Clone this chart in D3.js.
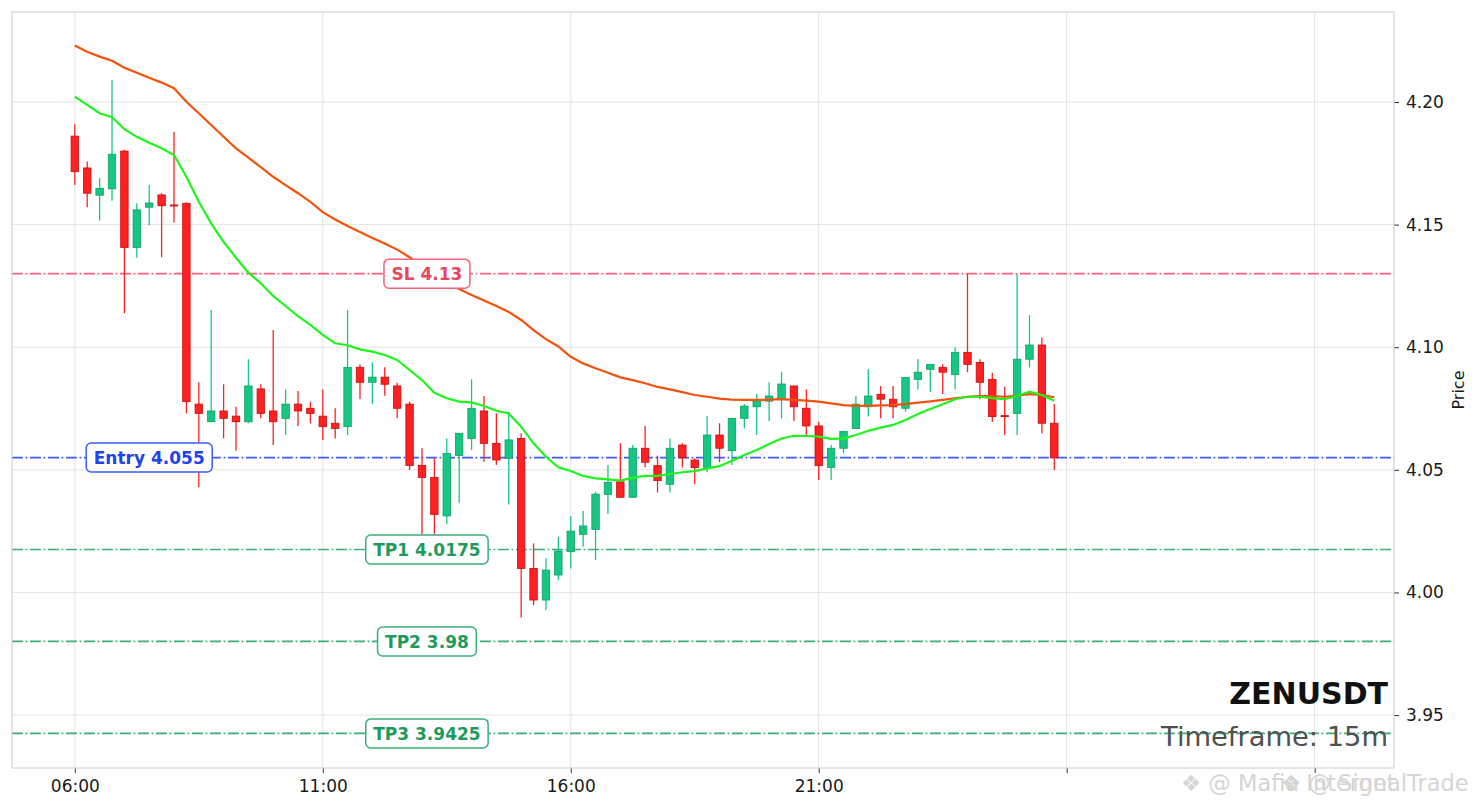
<!DOCTYPE html>
<html>
<head>
<meta charset="utf-8">
<script src="https://cdn.jsdelivr.net/npm/d3@7"></script>
<style>
    body { margin: 0; background: #fff; }
    svg { font-family: 'DejaVu Sans', sans-serif; display: block; }
</style>
</head>
<body>
<svg id="chart"></svg>
<script>
// ---- data (15m candles from 06:00) ----
const symbol = 'ZENUSDT';
const timeframe = '15m';
const startTime = new Date(2024, 0, 1, 6, 0);
const intervalMinutes = 15;

const opens = [4.1861, 4.1731, 4.1620, 4.1646, 4.1800, 4.1407, 4.1571, 4.1621, 4.1580, 4.1587,
    4.0768, 4.0696, 4.0740, 4.0719, 4.0696, 4.0830, 4.0740, 4.0710, 4.0768, 4.0751,
    4.0719, 4.0690, 4.0676, 4.0918, 4.0857, 4.0878, 4.0842, 4.0768, 4.0518, 4.0469,
    4.0312, 4.0558, 4.0628, 4.0740, 4.0608, 4.0547, 4.0628, 4.0098, 3.9969, 4.0071,
    4.0166, 4.0237, 4.0257, 4.0400, 4.0451, 4.0388, 4.0588, 4.0517, 4.0441, 4.0601,
    4.0540, 4.0510, 4.0642, 4.0578, 4.0710, 4.0757, 4.0780, 4.0787, 4.0842, 4.0751,
    4.0679, 4.0510, 4.0588, 4.0669, 4.0757, 4.0808, 4.0788, 4.0751, 4.0869, 4.0910,
    4.0918, 4.0889, 4.0979, 4.0938, 4.0869, 4.0721, 4.0730, 4.0951, 4.1009, 4.0690];
const highs = [4.1909, 4.1757, 4.1689, 4.2090, 4.1805, 4.1587, 4.1661, 4.1628, 4.1879, 4.1590,
    4.0857, 4.1152, 4.0849, 4.0757, 4.0951, 4.0849, 4.1070, 4.0828, 4.0821, 4.0778,
    4.0828, 4.0751, 4.1152, 4.0930, 4.0938, 4.0918, 4.0855, 4.0778, 4.0588, 4.0547,
    4.0628, 4.0649, 4.0869, 4.0801, 4.0730, 4.0737, 4.0649, 4.0200, 4.0139, 4.0227,
    4.0312, 4.0332, 4.0411, 4.0520, 4.0608, 4.0601, 4.0679, 4.0558, 4.0628, 4.0608,
    4.0547, 4.0719, 4.0690, 4.0710, 4.0768, 4.0809, 4.0857, 4.0898, 4.0842, 4.0828,
    4.0696, 4.0601, 4.0657, 4.0801, 4.0910, 4.0842, 4.0842, 4.0877, 4.0952, 4.0930,
    4.0931, 4.1000, 4.1299, 4.0951, 4.0896, 4.0839, 4.1299, 4.1131, 4.1040, 4.0768];
const lows = [4.1661, 4.1571, 4.1516, 4.1597, 4.1138, 4.1365, 4.1496, 4.1367, 4.1509, 4.0730,
    4.0429, 4.0696, 4.0628, 4.0578, 4.0690, 4.0710, 4.0601, 4.0642, 4.0679, 4.0690,
    4.0622, 4.0628, 4.0642, 4.0789, 4.0768, 4.0802, 4.0710, 4.0499, 4.0238, 4.0238,
    4.0278, 4.0366, 4.0581, 4.0533, 4.0520, 4.0359, 3.9898, 3.9948, 3.9928, 4.0051,
    4.0098, 4.0186, 4.0132, 4.0320, 4.0388, 4.0388, 4.0510, 4.0408, 4.0408, 4.0509,
    4.0441, 4.0490, 4.0531, 4.0520, 4.0669, 4.0642, 4.0699, 4.0710, 4.0699, 4.0638,
    4.0458, 4.0458, 4.0567, 4.0669, 4.0717, 4.0710, 4.0710, 4.0737, 4.0828, 4.0818,
    4.0809, 4.0828, 4.0898, 4.0788, 4.0696, 4.0642, 4.0642, 4.0918, 4.0649, 4.0499];
const closes = [4.1716, 4.1628, 4.1648, 4.1787, 4.1407, 4.1560, 4.1588, 4.1577, 4.1578, 4.0778,
    4.0730, 4.0740, 4.0710, 4.0696, 4.0842, 4.0730, 4.0696, 4.0768, 4.0740, 4.0730,
    4.0676, 4.0669, 4.0918, 4.0857, 4.0878, 4.0849, 4.0751, 4.0518, 4.0469, 4.0318,
    4.0567, 4.0649, 4.0751, 4.0608, 4.0540, 4.0622, 4.0098, 3.9969, 4.0091, 4.0169,
    4.0250, 4.0271, 4.0401, 4.0449, 4.0388, 4.0588, 4.0531, 4.0456, 4.0588, 4.0549,
    4.0509, 4.0642, 4.0588, 4.0710, 4.0760, 4.0780, 4.0801, 4.0850, 4.0757, 4.0679,
    4.0517, 4.0588, 4.0657, 4.0768, 4.0801, 4.0788, 4.0757, 4.0877, 4.0898, 4.0930,
    4.0898, 4.0979, 4.0930, 4.0857, 4.0717, 4.0718, 4.0951, 4.1009, 4.0690, 4.0549];

// moving averages as drawn (they carry history from before the window)
const emaFast = [4.2022, 4.1988, 4.1954, 4.1938, 4.1889, 4.1858, 4.1834, 4.1811, 4.1784, 4.1695,
    4.1593, 4.1505, 4.1430, 4.1365, 4.1304, 4.1261, 4.1209, 4.1168, 4.1127, 4.1091,
    4.1050, 4.1016, 4.1008, 4.0991, 4.0982, 4.0968, 4.0948, 4.0907, 4.0866, 4.0814,
    4.0792, 4.0778, 4.0775, 4.0760, 4.0741, 4.0730, 4.0676, 4.0608, 4.0553, 4.0510,
    4.0495, 4.0475, 4.0465, 4.0461, 4.0456, 4.0468, 4.0475, 4.0475, 4.0483, 4.0490,
    4.0495, 4.0506, 4.0515, 4.0537, 4.0560, 4.0581, 4.0605, 4.0628, 4.0639, 4.0638,
    4.0635, 4.0626, 4.0628, 4.0642, 4.0659, 4.0672, 4.0683, 4.0703, 4.0728, 4.0748,
    4.0767, 4.0788, 4.0798, 4.0798, 4.0792, 4.0788, 4.0801, 4.0819, 4.0805, 4.0782];
const emaSlow = [4.2230, 4.2205, 4.2185, 4.2168, 4.2140, 4.2119, 4.2099, 4.2079, 4.2056, 4.2001,
    4.1954, 4.1906, 4.1858, 4.1811, 4.1773, 4.1734, 4.1695, 4.1661, 4.1628, 4.1593,
    4.1551, 4.1521, 4.1494, 4.1470, 4.1445, 4.1423, 4.1398, 4.1367, 4.1331, 4.1294,
    4.1262, 4.1237, 4.1213, 4.1190, 4.1168, 4.1144, 4.1111, 4.1070, 4.1033, 4.1003,
    4.0961, 4.0934, 4.0914, 4.0896, 4.0877, 4.0866, 4.0853, 4.0838, 4.0828, 4.0817,
    4.0805, 4.0798, 4.0790, 4.0786, 4.0785, 4.0785, 4.0786, 4.0788, 4.0785, 4.0782,
    4.0778, 4.0771, 4.0764, 4.0761, 4.0761, 4.0763, 4.0764, 4.0768, 4.0774, 4.0779,
    4.0785, 4.0792, 4.0798, 4.0801, 4.0801, 4.0798, 4.0802, 4.0809, 4.0805, 4.0796];

const levelNames = ['SL', 'Entry', 'TP1', 'TP2', 'TP3'];
const levelValues = [4.13, 4.055, 4.0175, 3.98, 3.9425];
const levelLabels = ['SL 4.13', 'Entry 4.055', 'TP1 4.0175', 'TP2 3.98', 'TP3 3.9425'];

const yTicks = [3.95, 4.00, 4.05, 4.10, 4.15, 4.20];
const xTickHours = [0, 5, 10, 15, 20, 25];
const xTickLabels = ['06:00', '11:00', '16:00', '21:00', '', ''];

class CandleChart {
    constructor(_config) {
        this.config = {
            parentElement: _config.parentElement,
            containerWidth: _config.containerWidth || 1479,
            containerHeight: _config.containerHeight || 808,
            margin: {top: 12, right: 85, bottom: 40, left: 12}
        }

        this.data = opens.map((o, i) => ({
            time: d3.timeMinute.offset(startTime, i * intervalMinutes),
            open: o, high: highs[i], low: lows[i], close: closes[i],
            fast: emaFast[i], slow: emaSlow[i]
        }));

        this.initVis();
    }

    initVis() {
        let vis = this;

        vis.width = vis.config.containerWidth - vis.config.margin.left - vis.config.margin.right;
        vis.height = vis.config.containerHeight - vis.config.margin.top - vis.config.margin.bottom;

        vis.svg = d3.select(vis.config.parentElement)
            .attr('width', vis.config.containerWidth)
            .attr('height', vis.config.containerHeight);

        vis.chart = vis.svg.append('g')
            .attr('transform', `translate(${vis.config.margin.left}, ${vis.config.margin.top})`);

        vis.xScale = d3.scaleTime()
            .domain([d3.timeMinute.offset(startTime, -76), d3.timeMinute.offset(startTime, 1596)])
            .range([0, vis.width]);

        vis.yScale = d3.scaleLinear()
            .domain([3.9284, 4.2367])
            .range([vis.height, 0]);

        vis.xTickTimes = xTickHours.map(h => d3.timeHour.offset(startTime, h));

        vis.xAxis = d3.axisBottom(vis.xScale)
            .tickValues(vis.xTickTimes)
            .tickFormat((d, i) => xTickLabels[i])
            .tickSize(5)
            .tickPadding(7);

        vis.yAxis = d3.axisRight(vis.yScale)
            .tickValues(yTicks)
            .tickFormat(d3.format('.2f'))
            .tickSize(5)
            .tickPadding(7);

        vis.colors = {
            up: '#16c784', upEdge: '#0e9e63',
            down: '#ff2121', downEdge: '#c40d0d',
            fast: '#1df51d', slow: '#f2520c',
            SL: '#f2627a', Entry: '#3a5bff', TP: '#3aae78',
            SLText: '#e9465e', EntryText: '#2243ea', TPText: '#1f9a5e'
        }

        // where each level's tag sits, in candle units
        vis.labelAt = {SL: 28.4, Entry: 6, TP1: 28.4, TP2: 28.4, TP3: 28.4};

        vis.gridG = vis.chart.append('g').attr('class', 'grid');
        vis.levelG = vis.chart.append('g').attr('class', 'levels');
        vis.candleG = vis.chart.append('g').attr('class', 'candles');
        vis.lineG = vis.chart.append('g').attr('class', 'ema');
        vis.tagG = vis.chart.append('g').attr('class', 'tags');

        vis.xAxisG = vis.chart.append('g')
            .attr('class', 'axis x-axis')
            .attr('transform', `translate(0,${vis.height})`);

        vis.yAxisG = vis.chart.append('g')
            .attr('class', 'axis y-axis')
            .attr('transform', `translate(${vis.width},0)`);

        vis.updateVis();
    }

    updateVis() {
        let vis = this;

        vis.fastLine = d3.line()
            .x(d => vis.xScale(d.time))
            .y(d => vis.yScale(d.fast));

        vis.slowLine = d3.line()
            .x(d => vis.xScale(d.time))
            .y(d => vis.yScale(d.slow));

        vis.step = vis.xScale(vis.data[1].time) - vis.xScale(vis.data[0].time);
        vis.bodyWidth = vis.step * 0.6;

        vis.renderVis();
    }

    renderVis() {
        let vis = this;

        // grid
        vis.gridG.selectAll('.hgrid')
            .data(yTicks)
            .join('line')
            .attr('class', 'hgrid')
            .attr('x1', 0).attr('x2', vis.width)
            .attr('y1', d => vis.yScale(d)).attr('y2', d => vis.yScale(d))
            .attr('stroke', '#e4e4e4')
            .attr('stroke-width', 1);

        vis.gridG.selectAll('.vgrid')
            .data(vis.xTickTimes)
            .join('line')
            .attr('class', 'vgrid')
            .attr('y1', 0).attr('y2', vis.height)
            .attr('x1', d => vis.xScale(d)).attr('x2', d => vis.xScale(d))
            .attr('stroke', '#e4e4e4')
            .attr('stroke-width', 1);

        // trade levels
        vis.levelG.selectAll('.level')
            .data(levelValues)
            .join('line')
            .attr('class', 'level')
            .attr('x1', 0).attr('x2', vis.width)
            .attr('y1', d => vis.yScale(d)).attr('y2', d => vis.yScale(d))
            .attr('stroke', (d, i) => vis.levelColor(levelNames[i]))
            .attr('stroke-width', 1.7)
            .attr('stroke-dasharray', '10.9,2.7,1.7,2.7');

        // candles
        const candle = vis.candleG.selectAll('.candle')
            .data(vis.data)
            .join('g')
            .attr('class', 'candle');

        candle.append('line')
            .attr('x1', d => vis.xScale(d.time)).attr('x2', d => vis.xScale(d.time))
            .attr('y1', d => vis.yScale(d.high)).attr('y2', d => vis.yScale(d.low))
            .attr('stroke', d => d.close >= d.open ? vis.colors.up : vis.colors.down)
            .attr('stroke-width', 1.3);

        candle.append('rect')
            .attr('x', d => vis.xScale(d.time) - vis.bodyWidth / 2)
            .attr('width', vis.bodyWidth)
            .attr('y', d => vis.yScale(Math.max(d.open, d.close)))
            .attr('height', d => Math.max(1, Math.abs(vis.yScale(d.open) - vis.yScale(d.close))))
            .attr('fill', d => d.close >= d.open ? vis.colors.up : vis.colors.down)
            .attr('stroke', d => d.close >= d.open ? vis.colors.upEdge : vis.colors.downEdge)
            .attr('stroke-width', 0.8);

        // moving averages
        vis.lineG.selectAll('.slow-line')
            .data([vis.data])
            .join('path')
            .attr('class', 'slow-line')
            .attr('fill', 'none')
            .attr('stroke', vis.colors.slow)
            .attr('stroke-width', 2.2)
            .attr('d', vis.slowLine);

        vis.lineG.selectAll('.fast-line')
            .data([vis.data])
            .join('path')
            .attr('class', 'fast-line')
            .attr('fill', 'none')
            .attr('stroke', vis.colors.fast)
            .attr('stroke-width', 2.2)
            .attr('d', vis.fastLine);

        // level tags
        const tag = vis.tagG.selectAll('.tag')
            .data(levelValues)
            .join('g')
            .attr('class', 'tag')
            .attr('transform', (d, i) => {
                const t = d3.timeMinute.offset(startTime, vis.labelAt[levelNames[i]] * intervalMinutes);
                return `translate(${vis.xScale(t)},${vis.yScale(d)})`;
            });

        tag.append('rect');
        tag.append('text')
            .attr('text-anchor', 'middle')
            .attr('dy', '0.36em')
            .attr('font-size', 17)
            .attr('font-weight', 'bold')
            .attr('fill', (d, i) => vis.levelColor(levelNames[i], true))
            .text((d, i) => levelLabels[i]);

        tag.each(function(d, i) {
            const g = d3.select(this);
            const w = g.select('text').node().getComputedTextLength() + 15;
            g.select('rect')
                .attr('x', -w / 2).attr('y', -14.5)
                .attr('width', w).attr('height', 29)
                .attr('rx', 5)
                .attr('fill', '#fff')
                .attr('stroke', vis.levelColor(levelNames[i]))
                .attr('stroke-width', 1.5);
        });

        // frame
        vis.chart.selectAll('.frame')
            .data([0])
            .join('rect')
            .attr('class', 'frame')
            .attr('width', vis.width)
            .attr('height', vis.height)
            .attr('fill', 'none')
            .attr('stroke', '#cccccc')
            .attr('stroke-width', 1);

        // axes
        vis.xAxisG.call(vis.xAxis);
        vis.yAxisG.call(vis.yAxis);
        vis.svg.selectAll('.axis .domain').remove();
        vis.svg.selectAll('.axis .tick line').attr('stroke', '#333');
        vis.svg.selectAll('.axis text')
            .attr('font-size', 17)
            .attr('font-family', 'DejaVu Sans')
            .attr('fill', '#1a1a1a');

        vis.svg.selectAll('.y-title')
            .data(['Price'])
            .join('text')
            .attr('class', 'y-title')
            .attr('transform', `translate(1464,${vis.config.margin.top + vis.height / 2}) rotate(-90)`)
            .attr('text-anchor', 'middle')
            .attr('font-size', 16)
            .attr('fill', '#1a1a1a')
            .text(d => d);

        // symbol / timeframe
        vis.chart.append('text')
            .attr('x', vis.width - 6)
            .attr('y', 692)
            .attr('text-anchor', 'end')
            .attr('font-size', 30)
            .attr('font-weight', 'bold')
            .attr('fill', '#111')
            .text(symbol);

        vis.chart.append('text')
            .attr('x', vis.width - 6)
            .attr('y', 734)
            .attr('text-anchor', 'end')
            .attr('font-size', 27.3)
            .attr('fill', '#505050')
            .text(`Timeframe: ${timeframe}`);

        // watermark (two overlapping stamps, as in the source image)
        const wm = vis.svg.append('g')
            .attr('fill', '#c8c8c8')
            .attr('opacity', 0.75)
            .attr('font-size', 22.5);
        wm.append('text').attr('x', 1181).attr('y', 791).text('\u2756 @ Mafia Internet');
        wm.append('text').attr('x', 1281).attr('y', 791).text('\u2756 @ SignalTrade');
    }

    levelColor(name, text) {
        let vis = this;
        const key = name.startsWith('TP') ? 'TP' : name;
        return text ? vis.colors[key + 'Text'] : vis.colors[key];
    }
}

const chart = new CandleChart({parentElement: '#chart'});
</script>
</body>
</html>
